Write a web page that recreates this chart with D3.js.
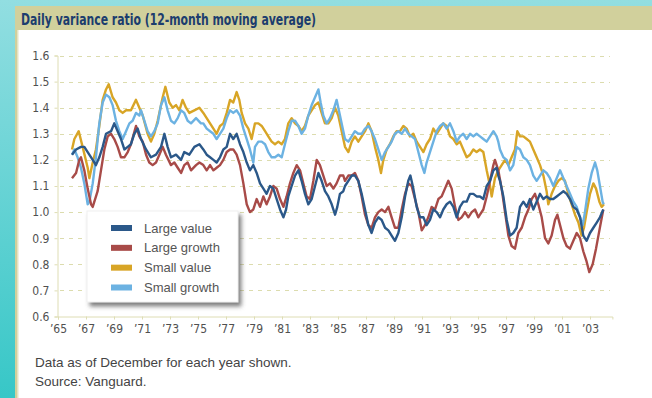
<!DOCTYPE html>
<html>
<head>
<meta charset="utf-8">
<script src="https://cdn.jsdelivr.net/npm/d3@7"></script>
<style>
  html, body { margin: 0; padding: 0; background: #fff; }
  svg { display: block; }
  .cond { font-family: 'Liberation Sans Narrow', 'DejaVu Sans Condensed', 'Arial Narrow', sans-serif; font-stretch: condensed; }
  .reg { font-family: 'Liberation Sans', Arial, Helvetica, sans-serif; }
</style>
</head>
<body>
<svg id="chart" width="652" height="398"></svg>
<script>
// Daily variance ratio, 12-month moving average: [year, ratio]
const largeValue = [[1966.00,1.22],[1966.29,1.24],[1966.64,1.25],[1966.88,1.25],[1967.12,1.23],[1967.48,1.20],[1967.71,1.18],[1967.95,1.21],[1968.19,1.25],[1968.43,1.30],[1968.79,1.31],[1969.02,1.34],[1969.26,1.31],[1969.50,1.28],[1969.74,1.24],[1969.98,1.25],[1970.21,1.26],[1970.45,1.30],[1970.69,1.32],[1970.93,1.28],[1971.29,1.24],[1971.64,1.21],[1972.00,1.22],[1972.36,1.25],[1972.60,1.30],[1972.83,1.25],[1973.07,1.21],[1973.43,1.22],[1973.79,1.20],[1974.02,1.23],[1974.38,1.22],[1974.74,1.25],[1975.10,1.26],[1975.38,1.24],[1975.62,1.22],[1975.86,1.21],[1976.10,1.20],[1976.33,1.19],[1976.57,1.21],[1976.81,1.24],[1977.05,1.25],[1977.29,1.30],[1977.52,1.28],[1977.76,1.30],[1978.00,1.26],[1978.24,1.23],[1978.48,1.19],[1978.71,1.16],[1978.95,1.18],[1979.19,1.15],[1979.43,1.11],[1979.67,1.09],[1979.90,1.07],[1980.14,1.10],[1980.38,1.09],[1980.62,1.05],[1980.86,1.01],[1981.10,0.98],[1981.29,1.01],[1981.45,1.06],[1981.69,1.10],[1981.93,1.14],[1982.17,1.16],[1982.40,1.12],[1982.64,1.07],[1982.88,1.03],[1983.12,1.05],[1983.36,1.10],[1983.60,1.15],[1983.83,1.12],[1984.07,1.08],[1984.31,1.06],[1984.55,1.03],[1984.79,0.99],[1984.95,1.02],[1985.14,1.07],[1985.38,1.08],[1985.50,1.10],[1985.74,1.12],[1985.98,1.14],[1986.21,1.14],[1986.45,1.12],[1986.69,1.07],[1986.93,1.01],[1987.17,0.95],[1987.40,0.92],[1987.64,0.96],[1987.88,0.98],[1988.12,0.97],[1988.36,0.94],[1988.60,0.93],[1988.83,0.91],[1989.07,0.89],[1989.31,0.92],[1989.55,0.98],[1989.79,1.06],[1990.02,1.12],[1990.17,1.14],[1990.38,1.09],[1990.62,1.02],[1990.86,0.98],[1991.10,0.98],[1991.33,0.95],[1991.57,0.97],[1991.81,1.01],[1992.05,1.00],[1992.29,0.98],[1992.52,1.01],[1992.76,1.03],[1993.00,1.04],[1993.24,1.02],[1993.48,0.98],[1993.71,1.02],[1993.95,1.04],[1994.19,1.04],[1994.43,1.07],[1994.67,1.07],[1994.90,1.06],[1995.14,1.06],[1995.38,1.05],[1995.62,1.10],[1995.86,1.12],[1996.10,1.16],[1996.33,1.17],[1996.45,1.14],[1996.57,1.12],[1996.81,1.06],[1997.05,0.97],[1997.29,0.91],[1997.52,0.92],[1997.76,0.94],[1998.00,1.02],[1998.24,1.04],[1998.48,1.02],[1998.71,1.05],[1998.95,1.01],[1999.19,1.04],[1999.43,1.07],[1999.67,1.05],[1999.90,1.06],[2000.14,1.05],[2000.38,1.05],[2000.62,1.06],[2000.86,1.07],[2001.10,1.08],[2001.33,1.07],[2001.57,1.05],[2001.81,1.02],[2002.05,1.01],[2002.29,0.98],[2002.52,0.91],[2002.76,0.89],[2003.00,0.92],[2003.24,0.94],[2003.48,0.96],[2003.71,0.98],[2003.95,1.01]];

const largeGrowth = [[1966.00,1.13],[1966.29,1.15],[1966.52,1.20],[1966.64,1.21],[1966.88,1.16],[1967.12,1.09],[1967.36,1.03],[1967.48,1.02],[1967.83,1.08],[1968.07,1.16],[1968.31,1.24],[1968.55,1.29],[1968.79,1.30],[1969.02,1.28],[1969.26,1.25],[1969.50,1.21],[1969.74,1.21],[1969.98,1.23],[1970.21,1.26],[1970.57,1.33],[1970.81,1.29],[1971.05,1.27],[1971.29,1.22],[1971.52,1.19],[1971.76,1.18],[1972.00,1.19],[1972.24,1.22],[1972.48,1.25],[1972.71,1.22],[1973.07,1.18],[1973.31,1.19],[1973.55,1.17],[1973.79,1.15],[1974.02,1.18],[1974.26,1.19],[1974.50,1.16],[1974.86,1.18],[1975.10,1.19],[1975.38,1.18],[1975.62,1.16],[1975.86,1.18],[1976.10,1.16],[1976.33,1.17],[1976.57,1.18],[1976.81,1.20],[1977.05,1.23],[1977.29,1.24],[1977.52,1.24],[1977.76,1.22],[1978.00,1.18],[1978.24,1.11],[1978.48,1.03],[1978.71,1.00],[1978.95,1.01],[1979.19,1.05],[1979.43,1.02],[1979.67,1.06],[1979.90,1.03],[1980.14,1.06],[1980.38,1.10],[1980.62,1.09],[1980.86,1.05],[1981.10,1.02],[1981.33,1.06],[1981.57,1.11],[1981.81,1.15],[1982.05,1.18],[1982.29,1.16],[1982.52,1.11],[1982.76,1.06],[1983.00,1.05],[1983.24,1.12],[1983.48,1.20],[1983.71,1.18],[1983.95,1.14],[1984.19,1.10],[1984.43,1.11],[1984.67,1.09],[1984.90,1.11],[1985.14,1.14],[1985.38,1.14],[1985.50,1.12],[1985.74,1.14],[1985.98,1.14],[1986.21,1.15],[1986.45,1.12],[1986.69,1.06],[1986.93,0.99],[1987.17,0.95],[1987.40,0.94],[1987.64,0.98],[1987.88,1.00],[1988.12,1.01],[1988.36,1.00],[1988.60,1.02],[1988.83,0.98],[1989.07,0.94],[1989.31,0.94],[1989.55,1.01],[1989.79,1.07],[1990.02,1.11],[1990.26,1.10],[1990.50,1.05],[1990.74,1.00],[1990.98,0.93],[1991.21,0.95],[1991.45,0.98],[1991.69,1.02],[1991.93,1.01],[1992.17,1.05],[1992.40,1.06],[1992.64,1.09],[1992.88,1.12],[1993.12,1.09],[1993.36,1.02],[1993.60,0.97],[1993.83,0.98],[1994.07,1.00],[1994.31,0.98],[1994.55,1.00],[1994.79,1.01],[1995.02,0.98],[1995.14,0.99],[1995.38,1.01],[1995.62,1.06],[1995.86,1.12],[1996.10,1.18],[1996.21,1.20],[1996.45,1.16],[1996.69,1.09],[1996.93,1.00],[1997.17,0.91],[1997.40,0.87],[1997.64,0.86],[1997.88,0.92],[1998.12,0.94],[1998.36,0.98],[1998.60,1.01],[1998.83,1.05],[1999.07,1.07],[1999.31,1.03],[1999.55,0.98],[1999.79,0.90],[2000.02,0.88],[2000.26,0.91],[2000.50,0.97],[2000.67,0.99],[2000.86,0.95],[2001.10,0.90],[2001.33,0.87],[2001.57,0.86],[2001.81,0.89],[2002.05,0.92],[2002.29,0.90],[2002.52,0.85],[2002.76,0.81],[2002.95,0.77],[2003.19,0.80],[2003.43,0.86],[2003.67,0.93],[2003.95,1.01]];

const smallValue = [[1966.00,1.24],[1966.17,1.28],[1966.48,1.31],[1966.76,1.25],[1967.12,1.17],[1967.24,1.13],[1967.48,1.19],[1967.71,1.24],[1967.95,1.33],[1968.19,1.43],[1968.43,1.47],[1968.62,1.49],[1968.90,1.44],[1969.14,1.42],[1969.38,1.39],[1969.62,1.38],[1969.86,1.39],[1970.21,1.39],[1970.57,1.43],[1970.81,1.40],[1971.05,1.37],[1971.40,1.30],[1971.64,1.27],[1971.88,1.30],[1972.12,1.35],[1972.48,1.44],[1972.67,1.48],[1972.95,1.42],[1973.19,1.40],[1973.43,1.41],[1973.67,1.39],[1973.90,1.43],[1974.14,1.40],[1974.38,1.38],[1974.74,1.39],[1975.10,1.40],[1975.38,1.38],[1975.62,1.36],[1975.86,1.34],[1976.10,1.32],[1976.33,1.30],[1976.57,1.33],[1976.81,1.34],[1977.05,1.38],[1977.29,1.43],[1977.52,1.42],[1977.76,1.46],[1977.95,1.43],[1978.12,1.38],[1978.36,1.34],[1978.60,1.32],[1978.83,1.28],[1979.07,1.34],[1979.31,1.34],[1979.55,1.33],[1979.79,1.31],[1980.02,1.29],[1980.26,1.27],[1980.50,1.26],[1980.74,1.27],[1980.98,1.26],[1981.21,1.28],[1981.45,1.34],[1981.69,1.36],[1981.93,1.34],[1982.17,1.33],[1982.40,1.31],[1982.64,1.33],[1982.88,1.37],[1983.12,1.39],[1983.36,1.41],[1983.60,1.42],[1983.83,1.38],[1984.07,1.34],[1984.31,1.34],[1984.55,1.36],[1984.79,1.40],[1985.02,1.37],[1985.26,1.31],[1985.50,1.25],[1985.74,1.23],[1985.98,1.27],[1986.21,1.29],[1986.45,1.27],[1986.69,1.29],[1986.93,1.31],[1987.17,1.34],[1987.40,1.31],[1987.64,1.25],[1987.88,1.20],[1988.07,1.15],[1988.24,1.20],[1988.48,1.24],[1988.71,1.26],[1988.95,1.29],[1989.19,1.31],[1989.43,1.31],[1989.67,1.33],[1989.90,1.32],[1990.14,1.29],[1990.38,1.30],[1990.62,1.27],[1990.86,1.25],[1991.10,1.23],[1991.33,1.26],[1991.57,1.28],[1991.81,1.32],[1992.05,1.30],[1992.29,1.32],[1992.52,1.34],[1992.76,1.33],[1993.00,1.29],[1993.24,1.28],[1993.48,1.26],[1993.71,1.27],[1993.95,1.24],[1994.19,1.21],[1994.43,1.22],[1994.67,1.24],[1994.90,1.23],[1995.14,1.24],[1995.38,1.23],[1995.62,1.16],[1995.86,1.10],[1995.98,1.06],[1996.21,1.13],[1996.45,1.16],[1996.69,1.18],[1996.93,1.20],[1997.17,1.18],[1997.40,1.21],[1997.64,1.24],[1997.81,1.31],[1998.00,1.29],[1998.24,1.29],[1998.48,1.28],[1998.71,1.27],[1998.95,1.24],[1999.19,1.21],[1999.43,1.18],[1999.67,1.14],[1999.90,1.08],[2000.02,1.03],[2000.26,1.07],[2000.50,1.10],[2000.74,1.12],[2000.98,1.13],[2001.21,1.12],[2001.45,1.07],[2001.69,1.03],[2001.93,0.99],[2002.17,0.96],[2002.40,0.91],[2002.57,0.94],[2002.76,1.00],[2003.00,1.07],[2003.24,1.11],[2003.43,1.09],[2003.67,1.04],[2003.83,1.02],[2004.00,1.03]];

const smallGrowth = [[1966.00,1.22],[1966.17,1.24],[1966.40,1.21],[1966.64,1.17],[1966.88,1.11],[1967.12,1.03],[1967.24,1.04],[1967.48,1.11],[1967.71,1.21],[1967.95,1.34],[1968.19,1.42],[1968.43,1.45],[1968.67,1.44],[1968.90,1.41],[1969.14,1.35],[1969.38,1.31],[1969.62,1.28],[1969.86,1.31],[1970.10,1.34],[1970.33,1.35],[1970.57,1.38],[1970.81,1.37],[1970.93,1.39],[1971.17,1.35],[1971.40,1.31],[1971.64,1.29],[1971.88,1.31],[1972.12,1.34],[1972.36,1.41],[1972.60,1.44],[1972.83,1.39],[1973.07,1.35],[1973.31,1.34],[1973.55,1.36],[1973.79,1.39],[1974.02,1.38],[1974.26,1.35],[1974.50,1.34],[1974.86,1.36],[1975.21,1.34],[1975.38,1.34],[1975.62,1.32],[1975.86,1.31],[1976.10,1.30],[1976.33,1.28],[1976.57,1.30],[1976.81,1.32],[1977.05,1.36],[1977.29,1.39],[1977.52,1.38],[1977.76,1.39],[1978.00,1.37],[1978.24,1.32],[1978.48,1.28],[1978.71,1.24],[1978.95,1.19],[1979.07,1.25],[1979.31,1.27],[1979.55,1.27],[1979.79,1.26],[1980.02,1.23],[1980.26,1.21],[1980.50,1.21],[1980.74,1.22],[1980.98,1.21],[1981.21,1.26],[1981.45,1.31],[1981.69,1.35],[1981.93,1.35],[1982.17,1.33],[1982.40,1.30],[1982.64,1.32],[1982.88,1.37],[1983.12,1.41],[1983.36,1.44],[1983.60,1.47],[1983.76,1.42],[1983.95,1.37],[1984.19,1.34],[1984.43,1.36],[1984.67,1.39],[1984.90,1.43],[1985.14,1.37],[1985.38,1.31],[1985.50,1.28],[1985.74,1.27],[1985.98,1.29],[1986.21,1.31],[1986.45,1.30],[1986.69,1.30],[1986.93,1.32],[1987.17,1.33],[1987.40,1.31],[1987.64,1.28],[1987.88,1.24],[1988.12,1.20],[1988.36,1.23],[1988.60,1.25],[1988.83,1.27],[1989.07,1.30],[1989.31,1.31],[1989.55,1.30],[1989.79,1.32],[1990.02,1.30],[1990.26,1.29],[1990.50,1.28],[1990.74,1.23],[1990.98,1.18],[1991.17,1.15],[1991.33,1.19],[1991.57,1.23],[1991.81,1.27],[1992.05,1.31],[1992.29,1.33],[1992.52,1.34],[1992.76,1.32],[1993.00,1.34],[1993.24,1.31],[1993.48,1.27],[1993.71,1.29],[1993.95,1.30],[1994.19,1.28],[1994.43,1.30],[1994.67,1.29],[1994.90,1.30],[1995.14,1.29],[1995.38,1.28],[1995.62,1.27],[1995.86,1.29],[1996.10,1.31],[1996.33,1.29],[1996.45,1.27],[1996.57,1.24],[1996.81,1.21],[1997.05,1.20],[1997.29,1.16],[1997.52,1.18],[1997.76,1.25],[1998.00,1.24],[1998.24,1.21],[1998.48,1.20],[1998.71,1.18],[1998.95,1.14],[1999.19,1.12],[1999.43,1.14],[1999.67,1.16],[1999.90,1.15],[2000.14,1.13],[2000.38,1.10],[2000.62,1.13],[2000.86,1.16],[2001.10,1.13],[2001.33,1.10],[2001.57,1.07],[2001.81,1.04],[2002.05,1.02],[2002.29,0.98],[2002.48,0.95],[2002.64,1.00],[2002.88,1.09],[2003.12,1.15],[2003.36,1.19],[2003.52,1.16],[2003.71,1.10],[2003.90,1.04],[2003.98,1.03]];

const seriesNames = ["Large value", "Large growth", "Small value", "Small growth"];
const seriesColors = ["#2b5889", "#a84b48", "#d8a526", "#6cb2e2"];
const yTicks = [0.6, 0.7, 0.8, 0.9, 1.0, 1.1, 1.2, 1.3, 1.4, 1.5, 1.6];
const xTicks = d3.range(1965, 2004, 2);
const titleText = "Daily variance ratio (12-month moving average)";
const notes = ["Data as of December for each year shown.", "Source: Vanguard."];

const svg = d3.select("#chart");
const W = 652, H = 398;

// page frame: teal surround, khaki title band, white panel
const defs = svg.append("defs");
const bg = defs.append("linearGradient").attr("id", "tealGrad")
  .attr("x1", 0).attr("y1", 0).attr("x2", 0).attr("y2", 1);
bg.append("stop").attr("offset", "0%").attr("stop-color", "#92dee1");
bg.append("stop").attr("offset", "100%").attr("stop-color", "#37c7c7");
const sh = defs.append("filter").attr("id", "legendShadow")
  .attr("x", "-10%").attr("y", "-10%").attr("width", "130%").attr("height", "140%");
sh.append("feDropShadow").attr("dx", 3).attr("dy", 4).attr("stdDeviation", 2)
  .attr("flood-color", "#555").attr("flood-opacity", 0.75);

svg.append("rect").attr("width", W).attr("height", H).attr("fill", "url(#tealGrad)");
svg.append("rect").attr("x", 15).attr("y", 6).attr("width", W - 15).attr("height", H - 6).attr("fill", "#d1d09c");
svg.append("rect").attr("x", 17).attr("y", 30).attr("width", W - 17).attr("height", H - 30).attr("fill", "#e4e3c4");
svg.append("rect").attr("x", 18.5).attr("y", 30).attr("width", W - 18.5).attr("height", H - 30).attr("fill", "#ffffff");

svg.append("text").attr("class", "cond")
  .attr("x", 21).attr("y", 24.5)
  .attr("font-size", 16.5).attr("font-weight", "bold").attr("fill", "#1c3d6e")
  .attr("textLength", 295).attr("lengthAdjust", "spacingAndGlyphs")
  .text(titleText);

// scales
const x = d3.scaleLinear().domain([1965, 2004.6]).range([58, 612.4]);
const y = d3.scaleLinear().domain([0.6, 1.6]).range([316.5, 55.5]);

// horizontal dashed gridlines
svg.append("g").selectAll("line").data(yTicks.filter(v => v > 0.6)).join("line")
  .attr("x1", 60).attr("x2", 610)
  .attr("y1", d => Math.round(y(d)) + 0.5).attr("y2", d => Math.round(y(d)) + 0.5)
  .attr("stroke", "#dcdcae").attr("stroke-width", 1).attr("stroke-dasharray", "4,5");

// y axis
const yAxis = svg.append("g").attr("transform", "translate(57.5,0)")
  .call(d3.axisLeft(y).tickValues(yTicks).tickFormat(d3.format(".1f")).tickSize(3).tickPadding(5));
yAxis.select(".domain").attr("stroke", "#deddb4");
yAxis.selectAll(".tick line").attr("stroke", "#deddb4");
yAxis.selectAll("text").attr("class", "cond").attr("font-size", 12).attr("fill", "#505050");

// x axis
const xAxis = svg.append("g").attr("transform", "translate(0,316.5)")
  .call(d3.axisBottom(x).tickValues(xTicks)
    .tickFormat(d => "\u2019" + String(d).slice(2)).tickSizeOuter(0).tickSize(3).tickPadding(5));
xAxis.select(".domain").attr("stroke", "#deddb4");
xAxis.selectAll(".tick line").attr("stroke", "#deddb4");
xAxis.selectAll("text").attr("class", "cond").attr("font-size", 12).attr("fill", "#505050");

// series lines
const line = d3.line().x(d => x(d[0])).y(d => y(d[1]));
const drawOrder = [2, 3, 1, 0];
const allSeries = [largeValue, largeGrowth, smallValue, smallGrowth];
svg.append("g").selectAll("path").data(drawOrder).join("path")
  .attr("d", i => line(allSeries[i]))
  .attr("fill", "none")
  .attr("stroke", i => seriesColors[i])
  .attr("stroke-width", 2.4)
  .attr("stroke-linejoin", "round");

// legend
const lg = svg.append("g");
lg.append("rect").attr("x", 87).attr("y", 211).attr("width", 151).attr("height", 91)
  .attr("fill", "#fff").attr("stroke", "#ececec").attr("stroke-width", 0.8)
  .attr("filter", "url(#legendShadow)");
const rowY = d3.scaleLinear().domain([0, 3]).range([228, 287.5]);
const items = lg.selectAll("g.item").data(seriesNames).join("g").attr("class", "item")
  .attr("transform", (d, i) => `translate(0,${rowY(i)})`);
items.append("rect").attr("x", 111).attr("y", -3).attr("width", 21).attr("height", 6)
  .attr("fill", (d, i) => seriesColors[i]);
items.append("text").attr("class", "reg").attr("x", 144).attr("y", 4.5)
  .attr("font-size", 13).attr("fill", "#555").text(d => d);

// notes
svg.append("g").selectAll("text").data(notes).join("text").attr("class", "reg")
  .attr("x", 35).attr("y", (d, i) => 366.5 + i * 19.5)
  .attr("font-size", 13.5).attr("fill", "#444").text(d => d);
</script>
</body>
</html>
